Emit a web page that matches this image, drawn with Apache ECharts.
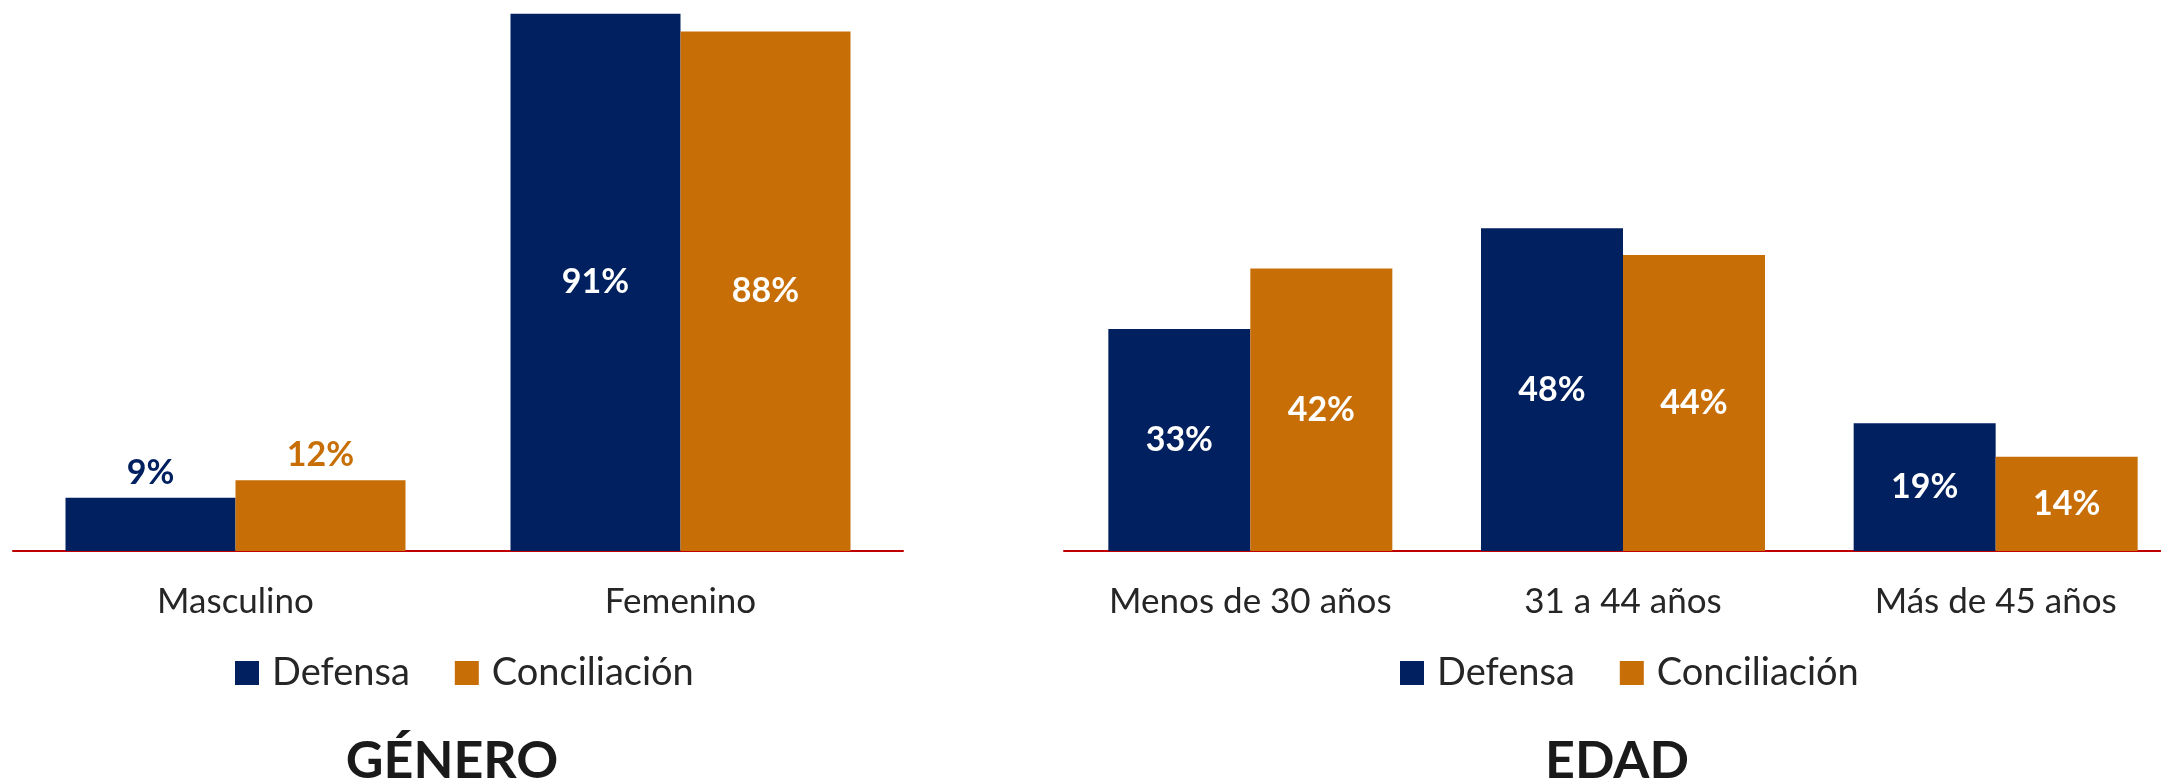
<!DOCTYPE html>
<html>
<head>
<meta charset="utf-8">
<script src="https://cdn.jsdelivr.net/npm/echarts@6/dist/echarts.min.js"></script>
<style>
  html, body { margin: 0; padding: 0; background: #ffffff; }
  #chart { width: 2161px; height: 781px; }
</style>
</head>
<body>
<div id="chart"></div>
<script>
// Distribution by gender and by age group, Defensa vs Conciliación
const seriesNames = ['Defensa', 'Conciliación'];

const generoCategories = ['Masculino', 'Femenino'];
const generoDefensa = [9, 91];
const generoConciliacion = [12, 88];

const edadCategories = ['Menos de 30 años', '31 a 44 años', 'Más de 45 años'];
const edadDefensa = [33, 48, 19];
const edadConciliacion = [42, 44, 14];

const panelTitles = ['GÉNERO', 'EDAD'];

const NAVY = '#002060';
const ORANGE = '#C86E06';
const AXIS_RED = '#C00000';
const TEXT = '#262626';
const FONT = 'Lato, "Open Sans", sans-serif';

const chart = echarts.init(document.getElementById('chart'), null, { renderer: 'canvas' });

// small values in the gender panel sit above their bars in the series colour
function genderData(values, color) {
  return values.map((v, i) => i === 0
    ? { value: v, label: { position: 'top', distance: 8, color: color } }
    : v);
}

function barSeries(name, color, data, axisIndex, barWidth) {
  return {
    type: 'bar',
    name: name,
    xAxisIndex: axisIndex,
    yAxisIndex: axisIndex,
    data: data,
    barWidth: barWidth,
    barGap: '0%',
    itemStyle: { color: color },
    label: {
      show: true,
      position: 'inside',
      color: '#ffffff',
      fontFamily: FONT,
      fontWeight: 'bold',
      fontSize: 34,
      formatter: p => p.value + '%'
    }
  };
}

function categoryAxis(gridIndex, data) {
  return {
    type: 'category',
    gridIndex: gridIndex,
    data: data,
    axisLine: { show: true, lineStyle: { color: AXIS_RED, width: 2 } },
    axisTick: { show: false },
    axisLabel: { color: TEXT, fontFamily: FONT, fontSize: 35, margin: 33, interval: 0, hideOverlap: false }
  };
}

function valueAxis(gridIndex, max) {
  return {
    type: 'value',
    gridIndex: gridIndex,
    min: 0,
    max: max,
    show: false,
    splitLine: { show: false }
  };
}

function legend(left) {
  return {
    data: seriesNames,
    left: left,
    top: 654,
    padding: 0,
    icon: 'rect',
    itemWidth: 24,
    itemHeight: 24,
    itemGap: 45,
    textStyle: { color: TEXT, fontFamily: FONT, fontSize: 38, padding: [0, 0, 0, 8] }
  };
}

chart.setOption({
  animation: false,
  backgroundColor: '#ffffff',
  title: [
    { text: panelTitles[0], left: 452, top: 735, textAlign: 'center', padding: 0,
      textStyle: { color: '#1a1a1a', fontFamily: FONT, fontWeight: 'bold', fontSize: 52 } },
    { text: panelTitles[1], left: 1617, top: 735, textAlign: 'center', padding: 0,
      textStyle: { color: '#1a1a1a', fontFamily: FONT, fontWeight: 'bold', fontSize: 52 } }
  ],
  legend: [legend(235), legend(1400)],
  grid: [
    { left: 13, width: 890, top: 2, bottom: 230, outerBoundsMode: 'none' },
    // the age panel's last category runs past the right edge of the canvas
    { left: 1064, width: 1118, top: 13, bottom: 230, outerBoundsMode: 'none' }
  ],
  xAxis: [categoryAxis(0, generoCategories), categoryAxis(1, edadCategories)],
  yAxis: [valueAxis(0, 93), valueAxis(1, 80)],
  series: [
    barSeries(seriesNames[0], NAVY, genderData(generoDefensa, NAVY), 0, 170),
    barSeries(seriesNames[1], ORANGE, genderData(generoConciliacion, ORANGE), 0, 170),
    barSeries(seriesNames[0], NAVY, edadDefensa, 1, 142),
    barSeries(seriesNames[1], ORANGE, edadConciliacion, 1, 142)
  ]
});
</script>
</body>
</html>
